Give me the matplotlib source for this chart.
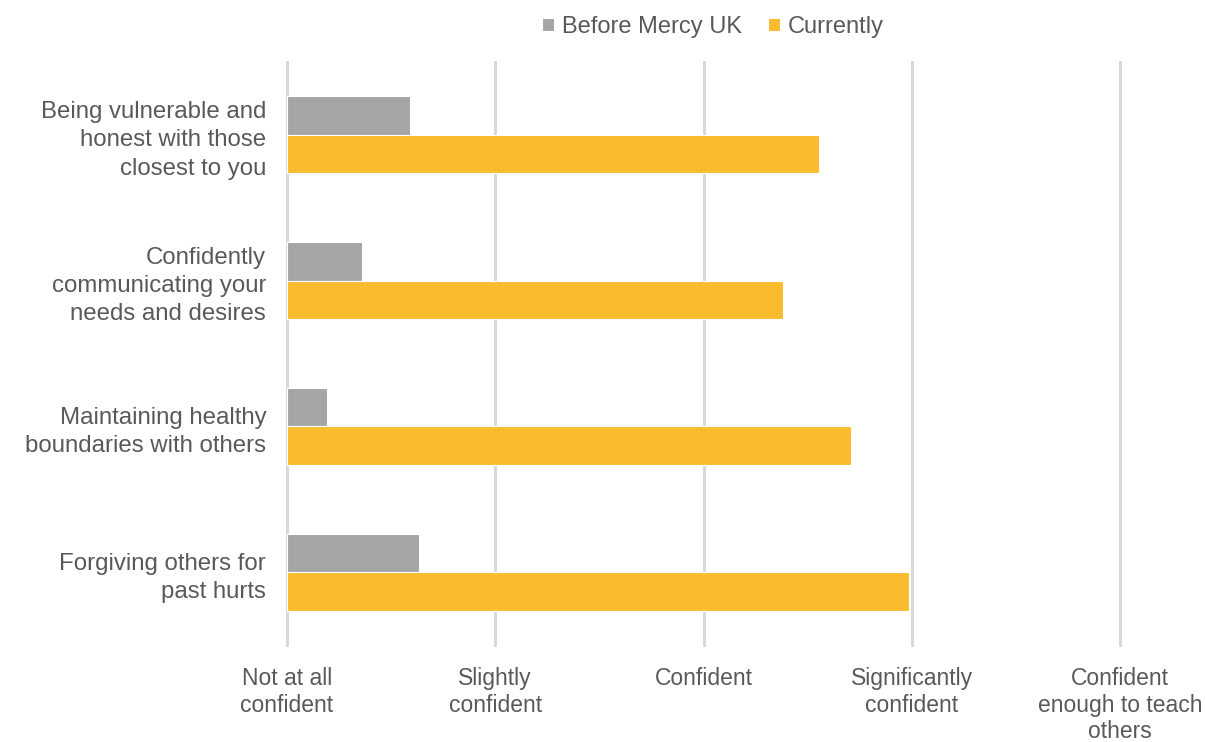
import numpy as np
import matplotlib.pyplot as plt

plt.rcParams['font.family'] = ['Liberation Sans', 'DejaVu Sans']

skills = ['Being vulnerable and\nhonest with those\nclosest to you',
          'Confidently\ncommunicating your\nneeds and desires',
          'Maintaining healthy\nboundaries with others',
          'Forgiving others for\npast hurts']
before = [0.59, 0.36, 0.19, 0.635]
currently = [2.555, 2.38, 2.71, 2.985]
levels = ['Not at all\nconfident', 'Slightly\nconfident', 'Confident',
          'Significantly\nconfident', 'Confident\nenough to teach\nothers']

grey = '#A5A5A5'
gold = '#F9BC2F'
text_col = '#595959'

fig = plt.figure(figsize=(12.05, 7.42), dpi=100)
ax = fig.add_axes([287 / 1205, 1 - 645 / 742, (1120 - 287) / 1205, (645 - 62) / 742])

y = np.arange(len(skills))
h = 0.265
ax.barh(y - h / 2, before, height=h, color=grey, edgecolor='white', linewidth=0.8,
        label='Before Mercy UK', zorder=3)
ax.barh(y + h / 2, currently, height=h, color=gold, edgecolor='white', linewidth=0.8,
        label='Currently', zorder=3)

ax.set_ylim(len(skills) - 0.5, -0.5)
ax.set_xlim(0, 4)
ax.set_yticks(y)
ax.set_yticklabels(skills, fontsize=17.3, color=text_col, ha='right', linespacing=1.36)
ax.set_xticks(range(len(levels)))
ax.set_xticklabels(levels, fontsize=16.5, color=text_col, va='top', linespacing=1.2)
ax.tick_params(length=0)
ax.tick_params(axis='x', pad=16)
ax.tick_params(axis='y', pad=15)

ax.grid(axis='x', color='#D9D9D9', linewidth=2.2, zorder=0)
for gl in ax.get_xgridlines():
    gl.set_clip_on(False)
for s in ax.spines.values():
    s.set_visible(False)

fig.legend(loc='center', bbox_to_anchor=(0.5917, 1 - 27 / 742), ncol=2, frameon=False,
           fontsize=17, handlelength=0.5, handleheight=0.5, handletextpad=0.35,
           columnspacing=1.1, labelcolor=text_col)

fig.savefig('out.png', dpi=100, facecolor='white')
